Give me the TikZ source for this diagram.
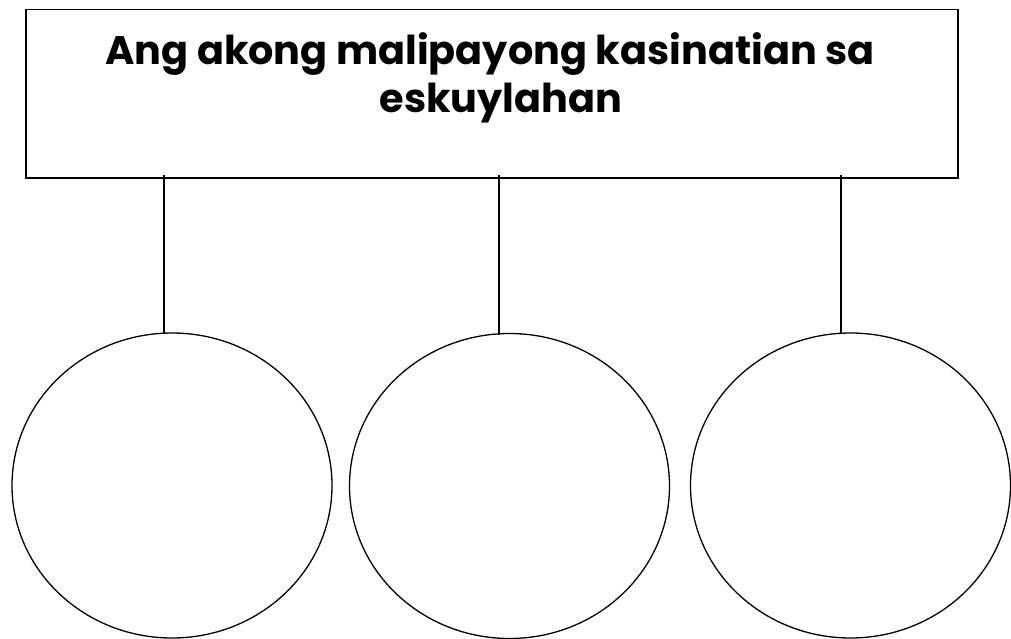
\documentclass[tikz,border=0pt]{standalone}
\usepackage{fontspec}
\setmainfont{Poppins}
\usetikzlibrary{shapes.geometric}
\begin{document}
\begin{tikzpicture}[x=1pt,y=-1pt,
  box/.style={draw=black,line width=1.5pt,minimum width=932pt,minimum height=168.5pt,inner sep=0pt},
  bubble/.style={draw=black,line width=1.3pt,ellipse,minimum width=320pt,minimum height=305pt,inner sep=0pt},
  link/.style={draw=black,line width=1.3pt},
  title/.style={font=\fontsize{39.8}{48}\selectfont\bfseries,inner sep=0pt,anchor=base}]
\useasboundingbox (0,0) rectangle (1011,639);
\node[box] (top) at (492,93.75) {};
\node[title] (t1) at (490,65) {Ang akong malipayong kasinatian sa};
\node[title] (t2) at (501,113) {eskuylahan};
\node[bubble] (c1) at (172,485.5) {};
\node[bubble] (c2) at (509.5,486) {};
\node[bubble] (c3) at (850.5,485.5) {};
\coordinate (a1) at (164,175);
\coordinate (a2) at (499,175);
\coordinate (a3) at (841,175);
\coordinate (e1) at (164,333.5);
\coordinate (e2) at (499,334.5);
\coordinate (e3) at (841,333.5);
\draw[link] (a1) -- (e1);
\draw[link] (a2) -- (e2);
\draw[link] (a3) -- (e3);
\end{tikzpicture}
\end{document}
